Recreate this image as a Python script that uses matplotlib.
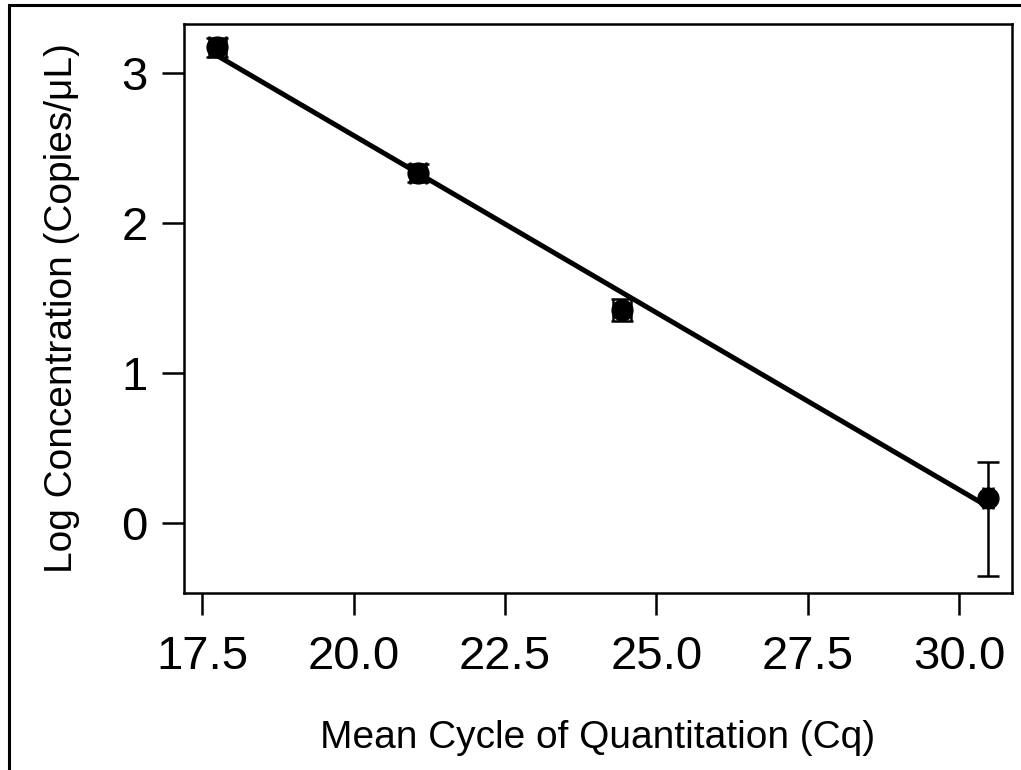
import numpy as np
import matplotlib
matplotlib.use("Agg")
import matplotlib.pyplot as plt
from matplotlib.patches import Rectangle

plt.rcParams["font.family"] = ["Liberation Sans", "DejaVu Sans"]

# standard curve: mean Cq vs log concentration
mean_cq = [17.75, 21.07, 24.44, 30.48]
log_conc = [3.17, 2.33, 1.42, 0.17]
cq_err = [0.14, 0.13, 0.15, 0.08]
conc_err_low = [0.065, 0.06, 0.07, 0.52]
conc_err_high = [0.065, 0.06, 0.07, 0.24]

x_ticks = [17.5, 20.0, 22.5, 25.0, 27.5, 30.0]
y_ticks = [0, 1, 2, 3]

fig = plt.figure(figsize=(10.21, 7.70), dpi=100)
ax = fig.add_axes([184 / 1021, 1 - 593 / 770, (1012 - 184) / 1021, (593 - 24) / 770])

# outer frame around the figure
fig.patches.append(Rectangle((9 / 1021, -0.05), 1.2, 1 - 5 / 770 + 0.05,
                             transform=fig.transFigure, fill=False,
                             edgecolor="black", linewidth=2.2))

slope, intercept = np.polyfit(mean_cq, log_conc, 1)
xs = np.array([min(mean_cq), max(mean_cq)])
ax.plot(xs, slope * xs + intercept, color="black", linewidth=3.6, zorder=2)

ax.errorbar(mean_cq, log_conc, xerr=cq_err,
            yerr=[conc_err_low, conc_err_high],
            fmt="o", color="black", markersize=15, elinewidth=1.8,
            capsize=8, capthick=1.8, zorder=3)

ax.set_xlim(17.2, 30.875)
ax.set_ylim(-0.466, 3.326)
ax.set_xticks(x_ticks)
ax.set_xticklabels([f"{t:.1f}" for t in x_ticks])
ax.set_yticks(y_ticks)
ax.tick_params(axis="x", direction="out", length=16, width=1.8, labelsize=34, pad=14)
ax.tick_params(axis="y", direction="out", length=16, width=1.8, labelsize=34, pad=10)
for s in ax.spines.values():
    s.set_linewidth(1.8)

ax.set_xlabel("Mean Cycle of Quantitation (Cq)", fontsize=28, labelpad=30)
ax.set_ylabel("Log Concentration (Copies/μL)", fontsize=28, labelpad=30)

fig.savefig("out.png", dpi=100)
